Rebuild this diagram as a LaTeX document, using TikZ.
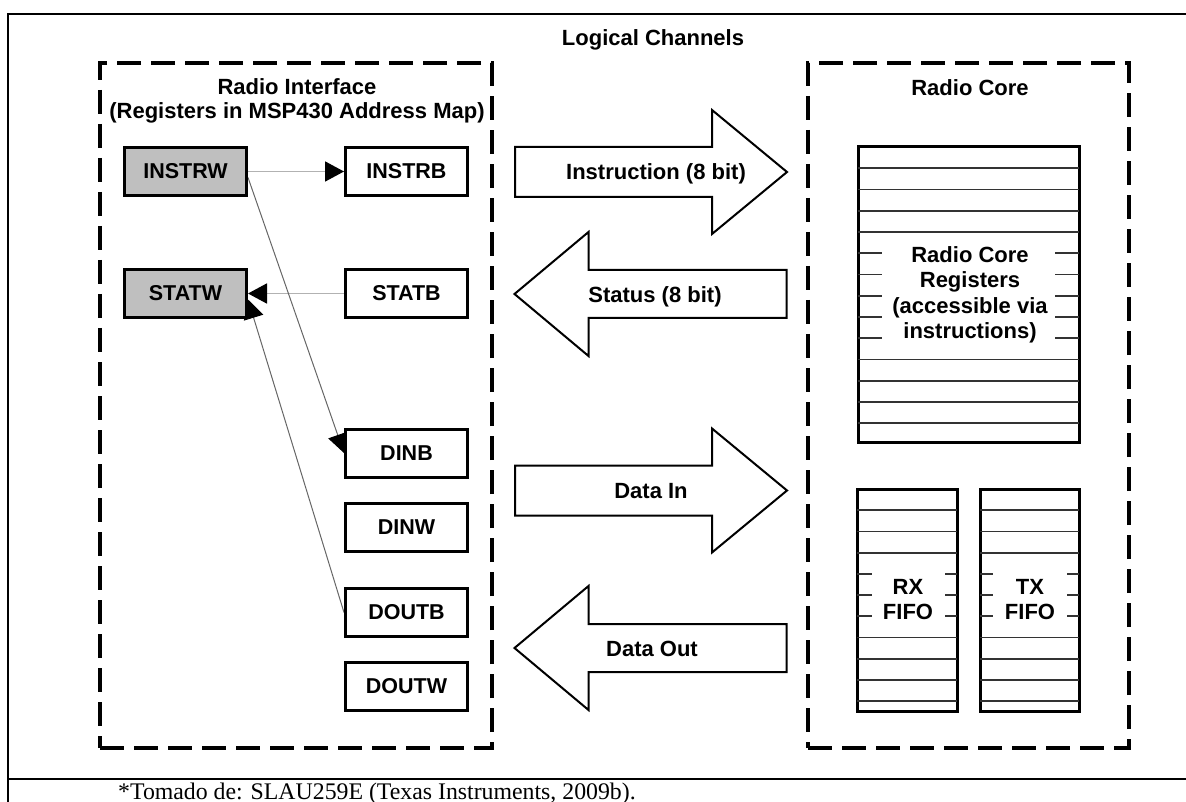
\documentclass[tikz,border=0pt]{standalone}
\usepackage{fontspec}
\setmainfont{Liberation Sans}
\newfontfamily\capfont{Liberation Serif}
\usetikzlibrary{arrows.meta}
\pgfdeclarelayer{bg}
\pgfsetlayers{bg,main}

\tikzset{
  lbl/.style={font=\fontsize{22}{24}\selectfont\bfseries, inner sep=0pt, align=center},
  reg/.style={draw, line width=3pt, fill=white, minimum width=122pt, minimum height=48pt,
    inner sep=0pt, font=\fontsize{21.5}{24}\selectfont\bfseries},
  wreg/.style={reg, fill=black!25},
  region/.style={draw, line width=3.5pt, dash pattern=on 24pt off 10pt, inner sep=0pt},
  thinlink/.style={draw=black!60, line width=1pt,
    -{Triangle[length=19pt,width=20pt,color=black]}},
  graylink/.style={draw=black!30, line width=1.8pt,
    -{Triangle[length=19pt,width=20pt,color=black]}},
  channel/.style={draw, line width=2pt, fill=white, line join=miter},
  stack/.style={draw, line width=3pt, fill=white, inner sep=0pt},
  slot/.style={draw=black!80, line width=1.8pt},
  pics/toright/.style={code={
    \draw[channel] (-136,-25) -- (61,-25) -- (61,-62) -- (136,0)
      -- (61,62) -- (61,25) -- (-136,25) -- cycle;}},
  pics/toleft/.style={code={
    \draw[channel] (136,-24) -- (-62,-24) -- (-62,-62) -- (-136,0)
      -- (-62,62) -- (-62,24) -- (136,24) -- cycle;}},
}

\begin{document}
\begin{tikzpicture}[x=1pt,y=-1pt]
\useasboundingbox (0,0) rectangle (1186,802);

% page frame
\draw[line width=2pt] (1186,14) -- (8,14) -- (8,802);
\draw[line width=2.6pt] (8,779) -- (1186,779);
\node[anchor=base west, font=\capfont\fontsize{23.8}{26}\selectfont, inner sep=0pt]
  (source) at (118,799.5) {*Tomado de: SLAU259E (Texas Instruments, 2009b).};

% titles and dashed regions
\node[lbl, anchor=base] (title) at (653,46) {Logical Channels};
\node[region, minimum width=392pt, minimum height=685pt] (iface) at (296,405.5) {};
\node[region, minimum width=321pt, minimum height=685pt] (core) at (968.5,405.5) {};
\node[lbl] (ifacetitle) at (297,101) {Radio Interface\\(Registers in MSP430 Address Map)};
\node[lbl, anchor=base] (coretitle) at (970,96) {Radio Core};

% interface registers
\node[wreg] (instrw) at (185.5,171.5) {INSTRW};
\node[reg]  (instrb) at (406.5,171.5) {INSTRB};
\node[wreg] (statw)  at (185.5,293.5) {STATW};
\node[reg]  (statb)  at (406.5,293.5) {STATB};
\node[reg]  (dinb)   at (406.5,453)   {DINB};
\node[reg]  (dinw)   at (406.5,527)   {DINW};
\node[reg]  (doutb)  at (406.5,612.5) {DOUTB};
\node[reg]  (doutw)  at (406.5,686)   {DOUTW};

\begin{pgfonlayer}{bg}
\draw[graylink] (instrw.east) -- (instrb.west);
\draw[graylink] (statb.west) -- (statw.east);
\draw[thinlink] ([yshift=-6pt]instrw.east) -- (dinb.west);
\draw[thinlink] (doutb.west) -- ([yshift=-6pt]statw.east);
\end{pgfonlayer}

% channel arrows
\pic at (651,172) {toright};
\pic at (650.5,294) {toleft};
\pic at (651,490.5) {toright};
\pic at (650.5,648) {toleft};
\node[lbl, anchor=base] (instr) at (656,180) {Instruction (8 bit)};
\node[lbl, anchor=base] (stat)  at (655,302) {Status (8 bit)};
\node[lbl, anchor=base] (din)   at (651,498.5) {Data In};
\node[lbl, anchor=base] (dout)  at (652,656) {Data Out};

% radio core register file
\node[stack, minimum width=221pt, minimum height=295pt] (regs) at (968.5,294.5) {};
\foreach \k in {1,2,3,4,10,11,12,13}
  \draw[slot] (858,147+21.25*\k) -- (1079,147+21.25*\k);
\foreach \k in {5,...,9}{
  \draw[slot] (858,147+21.25*\k) -- (882,147+21.25*\k);
  \draw[slot] (1055,147+21.25*\k) -- (1079,147+21.25*\k);}
\node[lbl, font=\fontsize{22}{25.5}\selectfont\bfseries] (regstext) at (970,295)
  {Radio Core\\Registers\\(accessible via\\instructions)};

% FIFOs
\node[stack, minimum width=100pt, minimum height=222pt] (rx) at (907,600) {};
\node[stack, minimum width=99pt, minimum height=222pt] (tx) at (1029.5,600) {};
\foreach \k in {1,2,3,7,8,9,10}{
  \draw[slot] (857,489+21.2*\k) -- (957,489+21.2*\k);
  \draw[slot] (980,489+21.2*\k) -- (1079,489+21.2*\k);}
\foreach \k in {4,5,6}{
  \draw[slot] (857,489+21.2*\k) -- (872,489+21.2*\k);
  \draw[slot] (945,489+21.2*\k) -- (957,489+21.2*\k);
  \draw[slot] (980,489+21.2*\k) -- (993,489+21.2*\k);
  \draw[slot] (1067,489+21.2*\k) -- (1079,489+21.2*\k);}
\node[lbl, font=\fontsize{22}{25}\selectfont\bfseries] (rxtext) at (908,600) {RX\\FIFO};
\node[lbl, font=\fontsize{22}{25}\selectfont\bfseries] (txtext) at (1030,600) {TX\\FIFO};
\end{tikzpicture}
\end{document}
